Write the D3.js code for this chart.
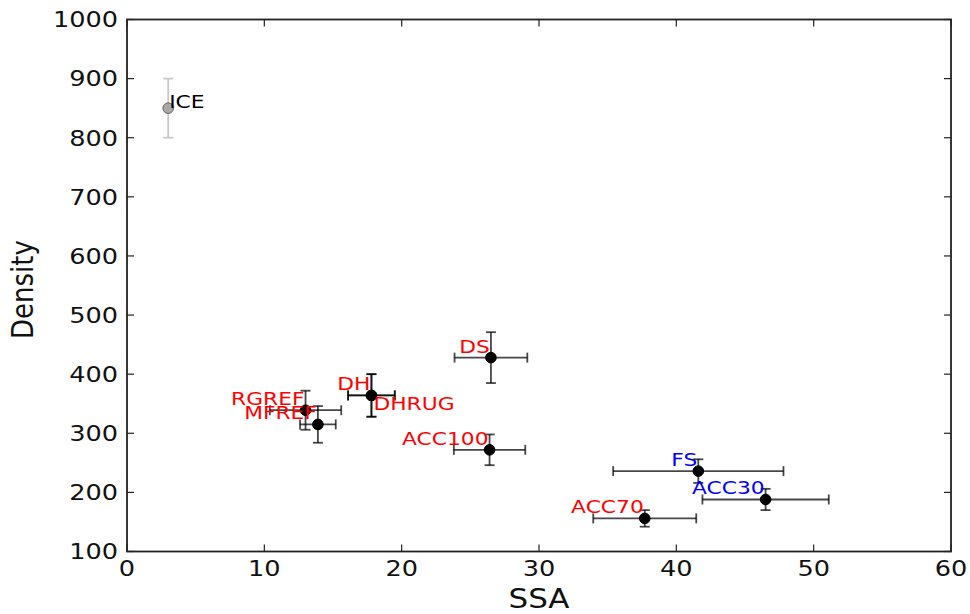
<!DOCTYPE html>
<html>
<head>
<meta charset="utf-8">
<script src="https://cdn.jsdelivr.net/npm/d3@7"></script>
<style>
  html, body { margin: 0; padding: 0; background: #fff; }
  svg { display: block; font-family: "DejaVu Sans", sans-serif; }
</style>
</head>
<body>
<svg id="chart" width="970" height="614"></svg>
<script>
// ---- data ----
const names     = ["ICE", "DS", "DH", "DHRUG", "RGREF", "MFREF", "ACC100", "FS", "ACC30", "ACC70"];
const ssa       = [3.0, 26.5, 17.8, 17.8, 13.0, 13.9, 26.4, 41.6, 46.5, 37.7];
const ssaErr    = [0, 2.65, 1.7, 1.7, 2.6, 1.3, 2.6, 6.2, 4.6, 3.75];
const density   = [850, 428, 364, 364, 339, 315, 272, 236, 188, 156];
const densErr   = [50, 43, 36, 36, 33, 31, 26, 20, 18, 14];
const labelColor  = ["#000000", "#ff0000", "#ff0000", "#ff0000", "#ff0000", "#ff0000", "#ff0000", "#0000ff", "#0000ff", "#ff0000"];
const labelAnchor = ["lb", "rb", "rb", "lt", "rb", "rb", "rb", "rb", "rb", "rb"];
const xTicks = [0, 10, 20, 30, 40, 50, 60];
const yTicks = [100, 200, 300, 400, 500, 600, 700, 800, 900, 1000];
const xLabel = "SSA";
const yLabel = "Density";

// ---- layout ----
const svg = d3.select("#chart");
const L = 127, R = 951, T = 19.5, B = 551.5;
const SX = 1.19; // horizontal stretch of the reference text
const x = d3.scaleLinear().domain([0, 60]).range([L, R]);
const y = d3.scaleLinear().domain([100, 1000]).range([B, T]);

const points = names.map((n, i) => ({
  name: n, x: ssa[i], xe: ssaErr[i], y: density[i], ye: densErr[i],
  color: labelColor[i], anchor: labelAnchor[i], ice: n === "ICE"
}));

// frame
svg.append("rect").attr("x", L).attr("y", T).attr("width", R - L).attr("height", B - T)
  .attr("fill", "none").attr("stroke", "#222").attr("stroke-width", 1.8);

// inward ticks on all four sides
const tl = 7;
const g = svg.append("g").attr("stroke", "#222").attr("stroke-width", 1.2);
xTicks.forEach(t => {
  g.append("line").attr("x1", x(t)).attr("x2", x(t)).attr("y1", B).attr("y2", B - tl);
  g.append("line").attr("x1", x(t)).attr("x2", x(t)).attr("y1", T).attr("y2", T + tl);
});
yTicks.forEach(t => {
  g.append("line").attr("y1", y(t)).attr("y2", y(t)).attr("x1", L).attr("x2", L + tl);
  g.append("line").attr("y1", y(t)).attr("y2", y(t)).attr("x1", R).attr("x2", R - tl);
});

// tick labels
xTicks.forEach(t => {
  svg.append("text").attr("transform", `translate(${x(t)},${B + 24.5}) scale(${SX},1)`)
    .attr("text-anchor", "middle").attr("font-size", 21.5).attr("fill", "#111").text(t);
});
yTicks.forEach(t => {
  svg.append("text").attr("transform", `translate(${L - 9},${y(t) + 7.8}) scale(${SX},1)`)
    .attr("text-anchor", "end").attr("font-size", 21.5).attr("fill", "#111").text(t);
});

// axis labels
svg.append("text").attr("transform", `translate(${(L + R) / 2},${608}) scale(${SX},1)`)
  .attr("text-anchor", "middle").attr("font-size", 26).attr("fill", "#111").text(xLabel);
svg.append("text").attr("transform", `translate(33,${(T + B) / 2 + 4}) scale(${SX},1) rotate(-90)`)
  .attr("text-anchor", "middle").attr("font-size", 26).attr("fill", "#111").text(yLabel);

// error bars
const cap = 5;
const eb = svg.append("g").attr("fill", "none").attr("stroke-width", 1.8);
points.forEach(p => {
  const c = p.ice ? "#c8c8c8" : "rgba(0,0,0,0.72)";
  const px = x(p.x), py = y(p.y);
  if (p.ye > 0) {
    const y1 = y(p.y + p.ye), y2 = y(p.y - p.ye);
    eb.append("line").attr("x1", px).attr("x2", px).attr("y1", y1).attr("y2", y2).attr("stroke", c);
    eb.append("line").attr("x1", px - cap).attr("x2", px + cap).attr("y1", y1).attr("y2", y1).attr("stroke", c);
    eb.append("line").attr("x1", px - cap).attr("x2", px + cap).attr("y1", y2).attr("y2", y2).attr("stroke", c);
  }
  if (p.xe > 0) {
    const x1 = x(p.x - p.xe), x2 = x(p.x + p.xe);
    eb.append("line").attr("x1", x1).attr("x2", x2).attr("y1", py).attr("y2", py).attr("stroke", c);
    eb.append("line").attr("x1", x1).attr("x2", x1).attr("y1", py - cap).attr("y2", py + cap).attr("stroke", c);
    eb.append("line").attr("x1", x2).attr("x2", x2).attr("y1", py - cap).attr("y2", py + cap).attr("stroke", c);
  }
});

// markers
svg.append("g").selectAll("circle").data(points).join("circle")
  .attr("cx", d => x(d.x)).attr("cy", d => y(d.y)).attr("r", 5.3)
  .attr("fill", d => d.ice ? "#a8a8a8" : "#000")
  .attr("stroke", d => d.ice ? "#666" : "#000").attr("stroke-width", 1);

// point labels
svg.append("g").selectAll("text").data(points).join("text")
  .attr("transform", d => {
    const px = x(d.x), py = y(d.y);
    if (d.anchor === "lb") return `translate(${px + 1},${py}) scale(${SX},1)`;
    if (d.anchor === "lt") return `translate(${px + 2},${py + 15}) scale(${SX},1)`;
    return `translate(${px - 1},${py - 5}) scale(${SX},1)`;
  })
  .attr("text-anchor", d => d.anchor[0] === "l" ? "start" : "end")
  .attr("font-size", 18.3)
  .attr("fill", d => d.color)
  .text(d => d.name);
</script>
</body>
</html>
